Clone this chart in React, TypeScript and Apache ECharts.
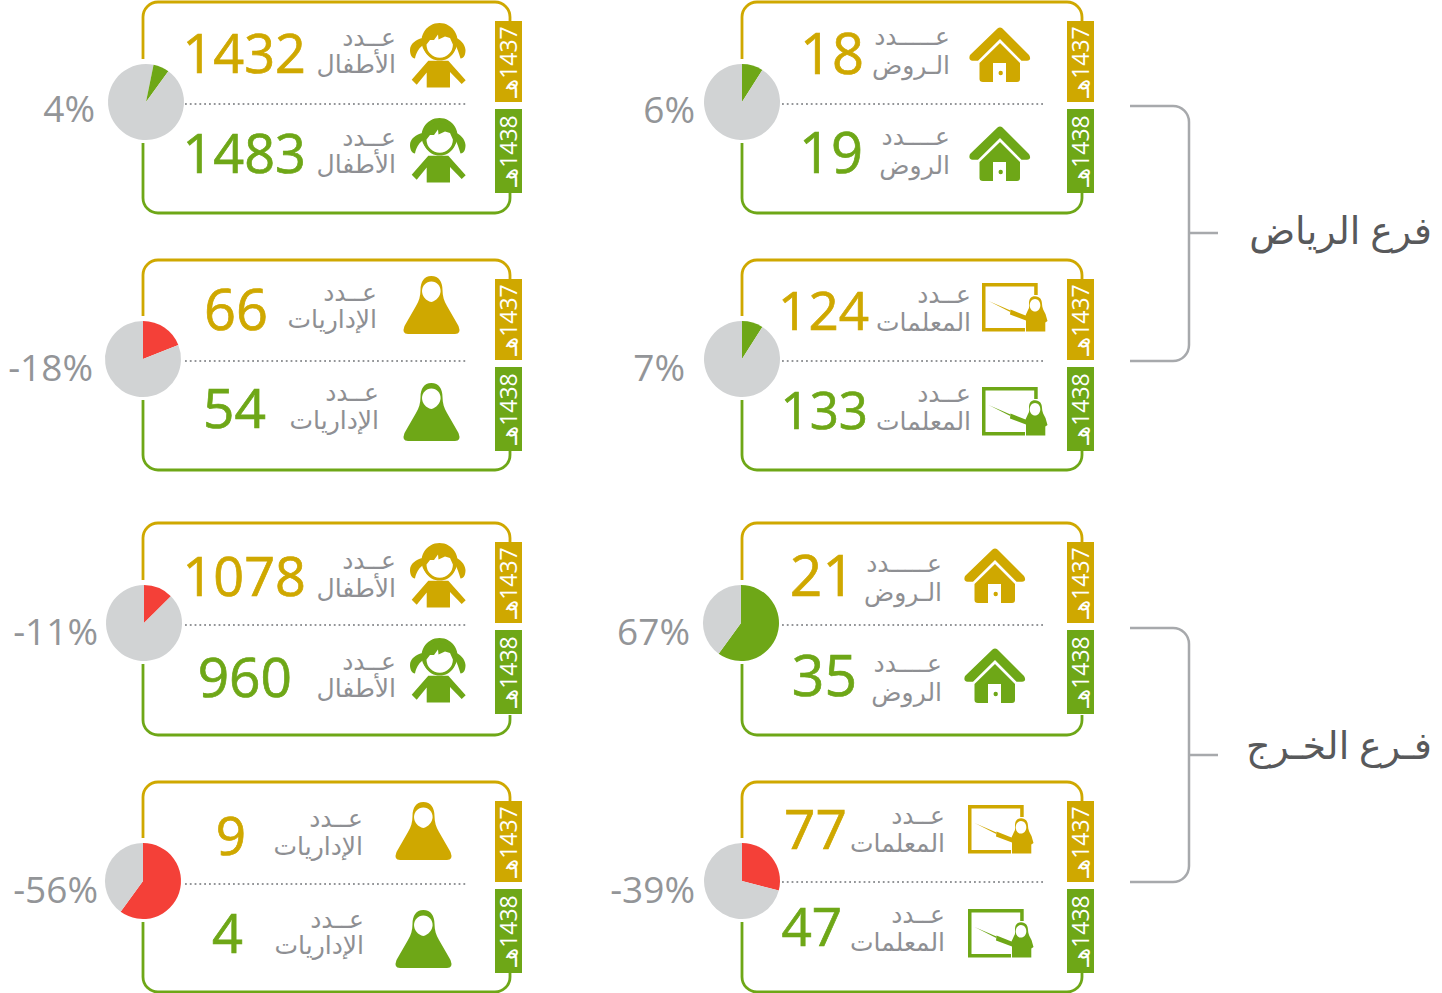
import React, { useEffect, useRef } from "react";
import * as echarts from "echarts";

// ---- data ----
const branchNames = ["فرع الرياض", "فـرع الخـرج"];
const yearTags = ["\u200F1437هـ", "\u200F1438هـ"];
const values1437 = [1432, 66, 1078, 9, 18, 124, 21, 77];
const values1438 = [1483, 54, 960, 4, 19, 133, 35, 47];
const changeLabels = ["4%", "-18%", "-11%", "-56%", "6%", "7%", "67%", "-39%"];
const countWords1437 = ["عــدد", "عــدد", "عــدد", "عــدد", "عـــــدد", "عــدد", "عـــــدد", "عــدد"];
const countWords1438 = ["عــدد", "عــدد", "عــدد", "عــدد", "عــــدد", "عــدد", "عــــدد", "عــدد"];
const metricWords1437 = ["الأطفال", "الإداريات", "الأطفال", "الإداريات", "الـروض", "المعلمات", "الـروض", "المعلمات"];
const metricWords1438 = ["الأطفال", "الإداريات", "الأطفال", "الإداريات", "الروض", "المعلمات", "الروض", "المعلمات"];
const wedgeOffsets = [3.2, 0, 0, 0, 0, 0, 0, 0];
const wedgeShares = [6.8, 19, 12.5, 60, 9, 9, 60, 29];

// ---- layout and style ----
const GOLD = "#CFA800";
const GREEN = "#6EA717";
const RED = "#F44038";
const PIE_GREY = "#D1D3D4";
const LABEL_GREY = "#8E8F93";
const PCT_GREY = "#939598";
const LATIN = "'Open Sans', 'DejaVu Sans', sans-serif";

const cardTops = [2, 260, 523, 782, 2, 260, 523, 782];
const cardBots = [213, 470, 735, 992, 213, 470, 735, 992];
const cardLeft = [143, 143, 143, 143, 742, 742, 742, 742];
const cardRight = [510, 510, 510, 510, 1082, 1082, 1082, 1082];
const tagLeft = [495, 495, 495, 495, 1067, 1067, 1067, 1067];
const pieX = [146, 143, 144, 143, 742, 742, 741, 742];
const pieY = [102, 359, 623, 881, 102, 359, 623, 881];
const divY = [104, 361, 625, 884, 104, 361, 625, 882];
const divX1 = [185, 185, 185, 185, 782, 782, 782, 782];
const divX2 = [467, 467, 467, 467, 1044, 1044, 1044, 1044];
const numRight1 = [306, 268, 306, 246, 864, 869, 855, 847];
const numSize1 = [54, 56, 54, 53, 56, 53, 57, 55];
const numY1 = [52, 308, 575, 834, 52, 309, 574, 827];
const numRight2 = [306, 266, 292, 243, 863, 868, 857, 842];
const numSize2 = [54, 55, 55, 54, 56, 51, 57, 53];
const numY2 = [152, 406, 675, 932, 151, 409, 674, 925];
const wordRight1 = [396, 377, 396, 363, 950, 971, 942, 945];
const wordRight2 = [396, 379, 396, 364, 950, 971, 942, 945];
const word1Y1 = [36, 291, 559, 817, 35, 293, 562, 814];
const word2Y1 = [63, 318, 587, 845, 64, 321, 591, 842];
const word1Y2 = [136, 391, 660, 918, 135, 392, 662, 913];
const word2Y2 = [163, 419, 687, 944, 164, 420, 691, 941];
const pctRight = [95, 93, 98, 98, 695, 685, 690, 695];
const pctY = [107, 366, 630, 888, 108, 366, 630, 888];
const iconKind = ["girl", "woman", "girl", "woman", "house", "teacher", "house", "teacher"];
const iconX = [410, 403, 410, 395, 968, 982, 963, 968];
const iconY1 = [23, 276, 543, 802, 27, 283, 548, 805];
const iconY2 = [118, 383, 638, 910, 126, 387, 648, 909];

const bracketTop = [106, 628];
const bracketBot = [361, 882];
const bracketMid = [233, 755];
const titleY = [229, 744];

const houseD =
  "M29.5 1.5Q32 -0.5 34.5 1.5L61 28Q64 33 59 33.7L53.5 33.7L32 12L10 33.7L4.5 33.7Q0 33 2 28Z" +
  "M32 16L52 36L52 52Q52 55 49 55L38 55L38 36L25 36L25 55L15 55Q11.5 55 11.5 52L11.5 36Z" +
  "M30.5 46a2.2 2.2 0 1 0 4.4 0a2.2 2.2 0 1 0 -4.4 0Z";
const womanD =
  "M28.3 0C36 0 39.5 6 39.5 14C39.5 20 41 25 44 30L55.5 50Q58.5 58 52 58L5 58Q-1.5 58 1.5 50L13 30C16 25 17.5 20 17.5 14C17.5 6 21 0 28.3 0Z";
const womanFaceD = "M28.3 5.5C34 5.5 37.6 10 37.6 15C37.6 20 33 25 28.3 26C23 25 19 20 19 15C19 10 23 5.5 28.3 5.5Z";
const frameD = "M0 0L55.7 0L55.7 12L52.2 12L52.2 3.5L3.5 3.5L3.5 45L43 45L43 48.5L0 48.5Z";
const figureD =
  "M53 13.3C58 13.3 60 17 60 21C60 25 62 28 63.5 31L65.5 38L63.3 39.5L63.3 48.5L44 48.5L44 37.5L28 31.5L28.5 26.5L43.5 32.5L46 27C47.5 25 47 24 47 20C47 16 49 13.3 53 13.3Z";
const pointerD = "M6.6 18L28.5 27.5L28.3 29Z";
const girlBodyD = "M18.3 37.7L38.3 37.7L55.7 57.3L51.7 61L40 49L40 64.5L16.7 64.5L16.7 49.5L6.7 61.7L1.7 56.7Z";
const girlFaceD = "M16.5 21.5L20 17L24 17L28 11.5L28.5 16.5L35 13.5L40 15L42.9 21.5A13.2 13.2 0 1 1 16.5 21.5Z";
const pigL = "M13 15C6 16 0 21 0 27C0 32 2 35 5 35.5C6 30 9 25 12 23Z";
const pigR = "M46 15C50 16 55 21 55.5 27C55.5 32 54 35 50.5 35.5C49 30 47 25 46 23Z";

const once = new Set<string>();
function reg(name: string, d: string) {
  if (once.has(name)) return;
  once.add(name);
  echarts.graphic.registerShape(name, echarts.graphic.extendPath(d, {}));
}
reg("iconHouse", houseD);
reg("iconWoman", womanD);
reg("iconWomanFace", womanFaceD);
reg("iconFrame", frameD);
reg("iconFigure", figureD);
reg("iconPointer", pointerD);
reg("iconGirlBody", girlBodyD);
reg("iconGirlFace", girlFaceD);
reg("iconPigL", pigL);
reg("iconPigR", pigR);

function icon(kind: string, x: number, y: number, color: string): any {
  const f = { fill: color };
  const w = { fill: "#fff" };
  let children: any[] = [];
  if (kind === "house") children = [{ type: "iconHouse", style: f }];
  if (kind === "woman")
    children = [
      { type: "iconWoman", style: f },
      { type: "iconWomanFace", style: w },
    ];
  if (kind === "teacher")
    children = [
      { type: "iconFrame", style: f },
      { type: "iconPointer", style: f },
      { type: "iconFigure", style: f },
      { type: "ellipse", shape: { cx: 53, cy: 22.3, rx: 5.3, ry: 6.3 }, style: w },
    ];
  if (kind === "girl")
    children = [
      { type: "iconPigL", style: f },
      { type: "iconPigR", style: f },
      { type: "circle", shape: { cx: 29.5, cy: 18, r: 18 }, style: f },
      { type: "circle", shape: { cx: 29.7, cy: 21.3, r: 16.3 }, style: f },
      { type: "iconGirlFace", style: w },
      { type: "iconGirlBody", style: f },
    ];
  return { type: "group", x, y, children };
}

function txt(text: string, x: number, y: number, size: number, fill: string, align = "right", extra: any = {}, stroke = 0): any {
  const style: any = { text, x: 0, y: 0, fill, fontSize: size, fontFamily: LATIN, align, verticalAlign: "middle" };
  if (stroke > 0) {
    style.stroke = fill;
    style.lineWidth = stroke;
  }
  return { type: "text", ...extra, x, y, style };
}

function buildGraphics(): any[] {
  const g: any[] = [];
  const r = 15;
  values1437.forEach((v, i) => {
    const x = cardLeft[i];
    const R = cardRight[i];
    const t = cardTops[i];
    const b = cardBots[i];
    const cy = pieY[i];
    const tag = tagLeft[i];
    const topD = `M${x} ${cy - 43}L${x} ${t + r}A${r} ${r} 0 0 1 ${x + r} ${t}L${R - r} ${t}A${r} ${r} 0 0 1 ${R} ${t + r}L${R} ${t + 20}`;
    const botD = `M${x} ${cy + 41}L${x} ${b - r}A${r} ${r} 0 0 0 ${x + r} ${b}L${R - r} ${b}A${r} ${r} 0 0 0 ${R} ${b - r}L${R} ${b - 20}`;
    reg(`cardTop${i}`, topD);
    reg(`cardBot${i}`, botD);
    g.push({ type: `cardTop${i}`, style: { fill: "none", stroke: GOLD, lineWidth: 2.8 } });
    g.push({ type: `cardBot${i}`, style: { fill: "none", stroke: GREEN, lineWidth: 2.8 } });
    g.push({
      type: "line",
      shape: { x1: divX1[i], y1: divY[i], x2: divX2[i], y2: divY[i] },
      style: { stroke: PCT_GREY, lineWidth: 1.8, lineDash: [1.8, 3] },
    });
    // year tags
    g.push({ type: "rect", shape: { x: tag, y: t + 19, width: 27, height: 81 }, style: { fill: GOLD } });
    g.push({ type: "rect", shape: { x: tag, y: t + 107, width: 27, height: 84 }, style: { fill: GREEN } });
    g.push(txt(yearTags[0], tag + 13, t + 60, 23, "#fff", "center", { rotation: Math.PI / 2 }));
    g.push(txt(yearTags[1], tag + 13, t + 149, 23, "#fff", "center", { rotation: Math.PI / 2 }));
    // numbers
    g.push(txt(String(v), numRight1[i], numY1[i], numSize1[i], GOLD, "right", {}, 0.7));
    g.push(txt(String(values1438[i]), numRight2[i], numY2[i], numSize2[i], GREEN, "right", {}, 0.7));
    // words
    g.push(txt(countWords1437[i], wordRight1[i], word1Y1[i], 25, LABEL_GREY));
    g.push(txt(metricWords1437[i], wordRight1[i], word2Y1[i], 25, LABEL_GREY));
    g.push(txt(countWords1438[i], wordRight2[i], word1Y2[i], 25, LABEL_GREY));
    g.push(txt(metricWords1438[i], wordRight2[i], word2Y2[i], 25, LABEL_GREY));
    // percentage
    g.push(txt(changeLabels[i], pctRight[i], pctY[i], 37, PCT_GREY));
    // icons
    g.push(icon(iconKind[i], iconX[i], iconY1[i], GOLD));
    g.push(icon(iconKind[i], iconX[i], iconY2[i], GREEN));
  });
  branchNames.forEach((name, i) => {
    const t = bracketTop[i];
    const b = bracketBot[i];
    const m = bracketMid[i];
    reg(`bracket${i}`, `M1130 ${t}L1173 ${t}A16 16 0 0 1 1189 ${t + 16}L1189 ${b - 16}A16 16 0 0 1 1173 ${b}L1130 ${b}M1189 ${m}L1218 ${m}`);
    g.push({ type: `bracket${i}`, style: { fill: "none", stroke: "#A7A9AC", lineWidth: 2.5 } });
    g.push(txt(name, 1432, titleY[i], 38, "#58595B"));
  });
  return g;
}

function buildPies(): any[] {
  return changeLabels.map((label, i) => {
    const negative = label.startsWith("-");
    return {
      type: "pie",
      silent: true,
      center: [pieX[i], pieY[i]],
      radius: [0, 38],
      startAngle: 90,
      clockwise: true,
      label: { show: false },
      labelLine: { show: false },
      data: [
        { value: wedgeOffsets[i], itemStyle: { color: PIE_GREY } },
        { value: wedgeShares[i], itemStyle: { color: negative ? RED : GREEN } },
        { value: 100 - wedgeOffsets[i] - wedgeShares[i], itemStyle: { color: PIE_GREY } },
      ],
    };
  });
}

export default function App() {
  const ref = useRef<HTMLDivElement>(null);
  useEffect(() => {
    const chart = echarts.init(ref.current!, null, { renderer: "svg" });
    chart.setOption({
      animation: false,
      backgroundColor: "#fff",
      graphic: { elements: buildGraphics() },
      series: buildPies(),
    });
    return () => chart.dispose();
  }, []);
  return <div ref={ref} style={{ position: "absolute", left: 0, top: 0, width: 1442, height: 993 }} />;
}
